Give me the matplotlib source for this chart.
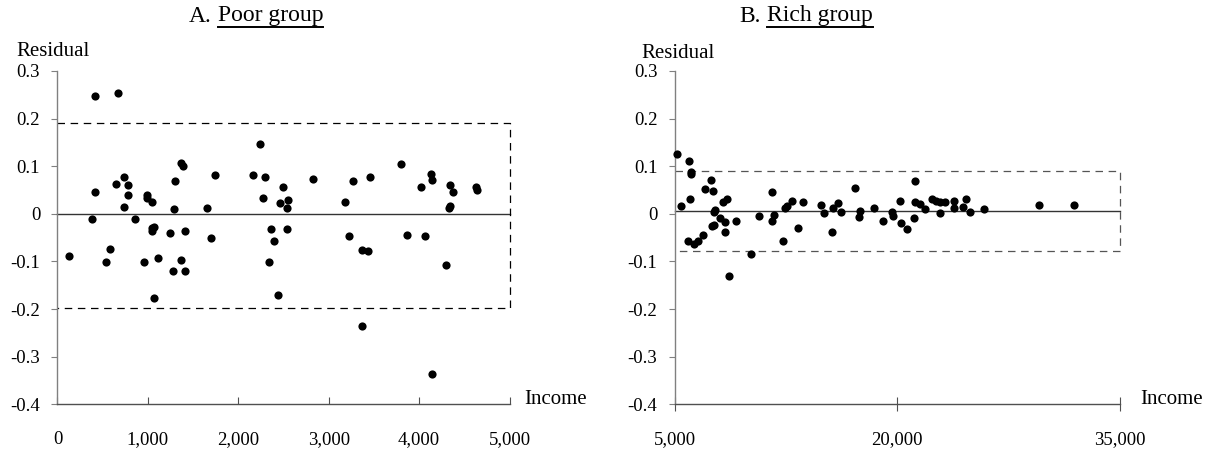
import matplotlib

matplotlib.use("Agg")
import matplotlib.pyplot as plt
from matplotlib.lines import Line2D

plt.rcParams["font.family"] = ["Liberation Serif", "DejaVu Serif"]

W, H = 1220, 455

# panel A: poor group (income, residual)
POOR_INCOME = [123, 418, 418, 385, 665, 651, 732, 776, 776, 732, 584, 540, 853,
               960, 994, 994, 1041, 1049, 1073, 1041, 1071, 1115, 1244, 1274,
               1292, 1303, 1366, 1384, 1366, 1414, 1414, 1650, 1742, 1694, 2162,
               2240, 2291, 2273, 2494, 2461, 2553, 2538, 2365, 2538, 2398, 2335,
               2442, 2822, 3176, 3268, 3456, 3224, 3364, 3430, 3364, 3799, 3865,
               4131, 4146, 4020, 4065, 4297, 4337, 4380, 4330, 4345, 4629, 4646,
               4144]
POOR_RESID = [-0.088, 0.248, 0.045, -0.011, 0.254, 0.062, 0.077, 0.060, 0.040,
              0.015, -0.073, -0.102, -0.011, -0.102, 0.040, 0.033, 0.024, -0.030,
              -0.028, -0.037, -0.176, -0.093, -0.040, -0.120, 0.010, 0.069, 0.107,
              0.101, -0.096, -0.037, -0.120, 0.013, 0.081, -0.051, 0.081, 0.147,
              0.077, 0.033, 0.056, 0.022, 0.030, 0.012, -0.031, -0.031, -0.056,
              -0.102, -0.170, 0.074, 0.024, 0.068, 0.077, -0.047, -0.076, -0.079,
              -0.235, 0.104, -0.044, 0.083, 0.071, 0.056, -0.047, -0.108, 0.060,
              0.046, 0.012, 0.016, 0.057, 0.050, -0.337]

# panel B: rich group
RICH_INCOME = [5155, 5942, 6080, 6121, 5447, 6032, 7043, 7448, 7560, 7640, 7700,
               8279, 8504, 8055, 8414, 9156, 8392, 7672, 7515, 6931, 6549, 6301,
               5919, 8684, 10167, 10662, 11539, 11539, 11718, 12280, 12437, 12595,
               12932, 13336, 13629, 14843, 15045, 15607, 15697, 16011, 16191,
               17135, 17495, 17405, 18439, 19024, 19650, 19700, 20170, 20237,
               20664, 21158, 21226, 21226, 21563, 21878, 22328, 22597, 22912,
               22890, 23226, 23855, 23855, 24463, 24620, 24935, 25878, 29565,
               31925]
RICH_RESID = [0.125, 0.110, 0.088, 0.084, 0.016, 0.031, 0.052, 0.072, 0.048,
              0.004, 0.008, 0.024, 0.031, -0.009, -0.017, -0.014, -0.038, -0.023,
              -0.025, -0.044, -0.056, -0.063, -0.058, -0.131, -0.084, -0.005,
              0.045, -0.014, -0.003, -0.058, 0.013, 0.017, 0.028, -0.029, 0.024,
              0.019, 0.001, -0.038, 0.013, 0.022, 0.004, 0.054, 0.005, -0.006,
              0.012, -0.014, 0.003, -0.005, 0.028, -0.020, -0.031, -0.008, 0.069,
              0.024, 0.021, 0.010, 0.031, 0.026, 0.001, 0.025, 0.025, 0.028,
              0.012, 0.015, 0.031, 0.004, 0.010, 0.018, 0.019]

Y_TICKS = [0.3, 0.2, 0.1, 0.0, -0.1, -0.2, -0.3, -0.4]
Y_LABELS = ["0.3", "0.2", "0.1", "0", "-0.1", "-0.2", "-0.3", "-0.4"]
POOR_XTICKS = [0, 1000, 2000, 3000, 4000, 5000]
POOR_XLABELS = ["0", "1,000", "2,000", "3,000", "4,000", "5,000"]
RICH_XTICKS = [5000, 20000, 35000]
RICH_XLABELS = ["5,000", "20,000", "35,000"]

# dashed bands (lower, upper) and reference line level
POOR_BAND = (-0.198, 0.190)
RICH_BAND = (-0.077, 0.091)
POOR_BASE = 0.0
RICH_BASE = 0.005


def fx(px):
    return px / W


def fy(py):
    return 1 - py / H


def panel(fig, rect, x, y, xticks, xlabels, band, base, box_color,
          tick_dir, tick_len, tick_pad):
    ax = fig.add_axes(rect)
    xmin, xmax = xticks[0], xticks[-1]
    ax.set_xlim(xmin, xmax)
    ax.set_ylim(-0.4, 0.3)
    for side in ("top", "right"):
        ax.spines[side].set_visible(False)
    ax.spines["left"].set_color("#808080")
    ax.spines["left"].set_linewidth(1.0)
    ax.spines["bottom"].set_color("#505050")
    ax.spines["bottom"].set_linewidth(1.0)

    ax.plot([xmin, xmax], [base, base], color="#333333", lw=1.0,
            zorder=2, clip_on=False)
    lo, hi = band
    ax.plot([xmin, xmax, xmax, xmin], [hi, hi, lo, lo], color=box_color,
            lw=0.9, linestyle=(0, (6, 4.5)), zorder=2, clip_on=False)
    ax.plot(x, y, "o", color="black", markersize=5.9, markeredgewidth=0,
            zorder=3, clip_on=False)

    ax.set_yticks(Y_TICKS, Y_LABELS)
    ax.set_xticks(xticks, xlabels)
    ax.tick_params(axis="y", direction="out", length=4.5, width=0.8,
                   color="#808080", pad=8, labelsize=13.5)
    ax.tick_params(axis="x", direction=tick_dir, length=tick_len, width=0.8,
                   color="#505050", pad=tick_pad, labelsize=13.5)
    return ax


def title(fig, cx, cy, prefix, under, size, uy):
    r = fig.canvas.get_renderer()
    t1 = fig.text(0, 0, prefix, fontsize=size, va="center", ha="left")
    t2 = fig.text(0, 0, under, fontsize=size, va="center", ha="left")
    w1 = t1.get_window_extent(r).width
    w2 = t2.get_window_extent(r).width
    gap = size * 100 / 72 * 0.25
    x0 = cx - (w1 + gap + w2) / 2
    t1.set_position((fx(x0), fy(cy)))
    t2.set_position((fx(x0 + w1 + gap), fy(cy)))
    fig.add_artist(Line2D([fx(x0 + w1 + gap), fx(x0 + w1 + gap + w2)],
                          [fy(uy), fy(uy)], transform=fig.transFigure,
                          color="black", lw=1.4))


fig = plt.figure(figsize=(W / 100, H / 100), dpi=100)
fig.patch.set_facecolor("white")

bottom = fy(404.3)
height = (404.3 - 71) / H

panel(fig, [fx(57.5), bottom, 452 / W, height], POOR_INCOME, POOR_RESID,
      POOR_XTICKS, POOR_XLABELS, POOR_BAND, POOR_BASE, "black",
      "in", 4.8, 19.5)
panel(fig, [fx(674.7), bottom, 445 / W, height], RICH_INCOME, RICH_RESID,
      RICH_XTICKS, RICH_XLABELS, RICH_BAND, RICH_BASE, "#555555",
      "inout", 10, 14.5)

fig.text(fx(16), fy(52), "Residual", fontsize=15, va="center", ha="left")
fig.text(fx(641), fy(53), "Residual", fontsize=15, va="center", ha="left")
fig.text(fx(524), fy(400), "Income", fontsize=15, va="center", ha="left")
fig.text(fx(1140), fy(400), "Income", fontsize=15, va="center", ha="left")

title(fig, 256, 16, "A.", "Poor group", 17, 27)
title(fig, 806, 16, "B.", "Rich group", 17, 27)

fig.savefig("out.png", dpi=100, facecolor="white")
